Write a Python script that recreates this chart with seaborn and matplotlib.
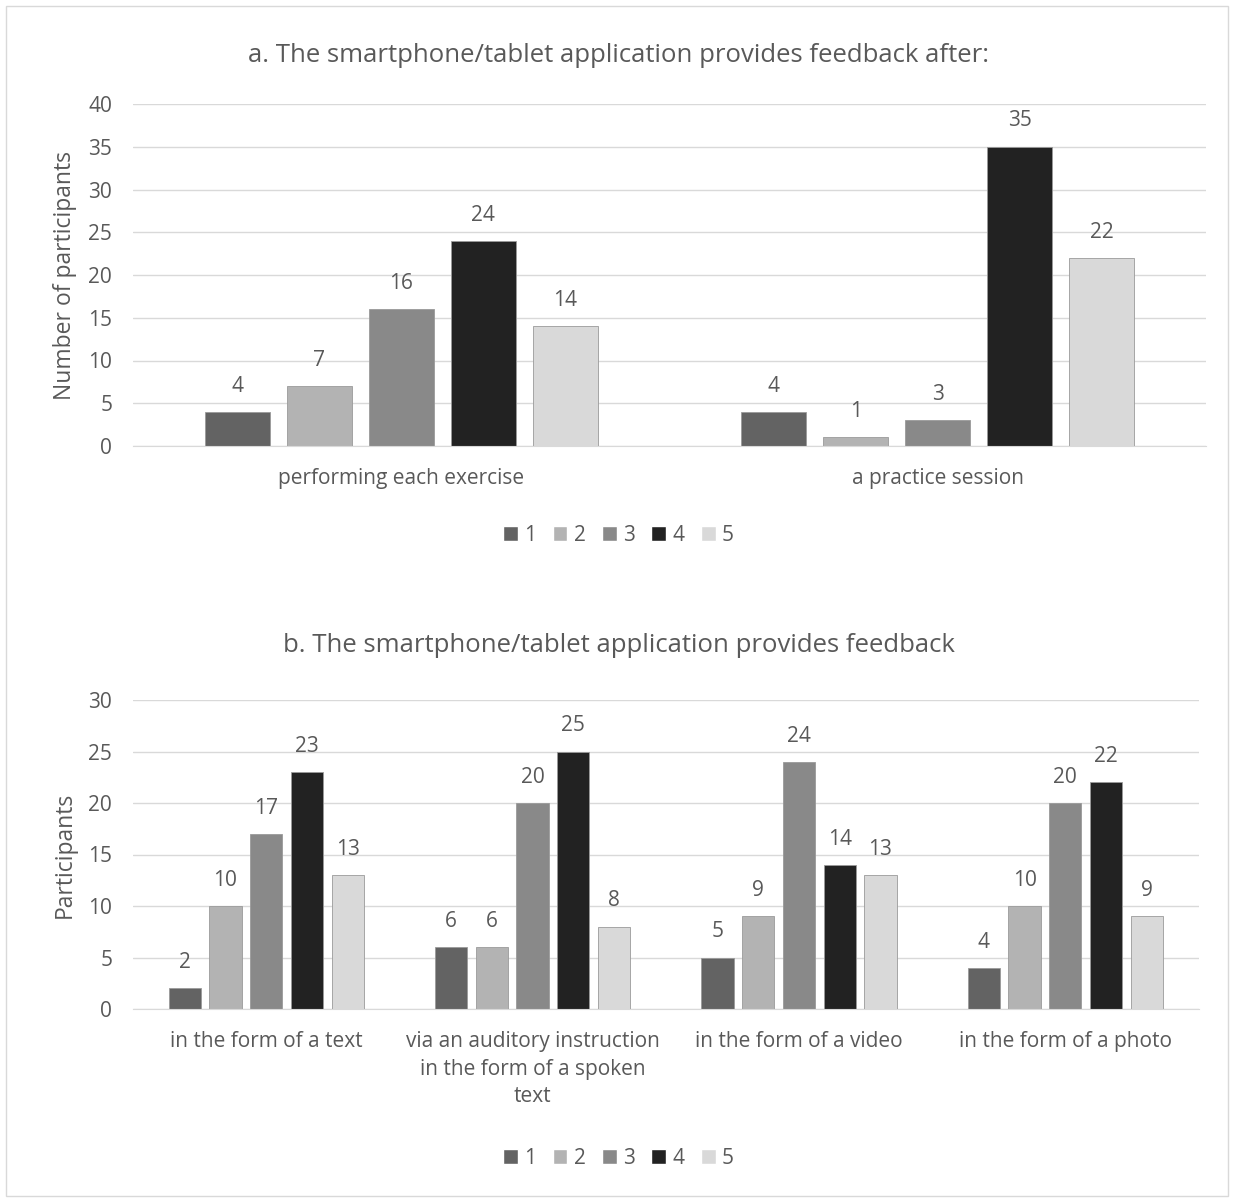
import pandas as pd
import seaborn as sns
import matplotlib.pyplot as plt
from matplotlib.patches import Rectangle

# top chart data
top_title = 'a. The smartphone/tablet application provides feedback after:'
top_cats = ['performing each exercise', 'a practice session']
top_1 = [4, 4]
top_2 = [7, 1]
top_3 = [16, 3]
top_4 = [24, 35]
top_5 = [14, 22]

# bottom chart data
bot_title = 'b. The smartphone/tablet application provides feedback'
bot_cats = ['in the form of a text',
            'via an auditory instruction\nin the form of a spoken\ntext',
            'in the form of a video',
            'in the form of a photo']
bot_1 = [2, 6, 5, 4]
bot_2 = [10, 6, 9, 10]
bot_3 = [17, 20, 24, 20]
bot_4 = [23, 25, 14, 22]
bot_5 = [13, 8, 13, 9]

levels = ['1', '2', '3', '4', '5']
colors = {'1': '#636363', '2': '#b3b3b3', '3': '#898989', '4': '#222222', '5': '#d9d9d9'}
txt = '#595959'


def to_long(cats, series):
    rows = []
    for lvl, vals in zip(levels, series):
        for c, v in zip(cats, vals):
            rows.append({'cat': c, 'level': lvl, 'n': v})
    return pd.DataFrame(rows)


top_df = to_long(top_cats, [top_1, top_2, top_3, top_4, top_5])
bot_df = to_long(bot_cats, [bot_1, bot_2, bot_3, bot_4, bot_5])

sns.set_style("white")
plt.rcParams['font.family'] = ['Open Sans', 'DejaVu Sans']

W, H = 1237, 1202
fig = plt.figure(figsize=(W / 100, H / 100), dpi=100)
ax1 = fig.add_axes([133/W, 1 - 446/H, 1073/W, 342/H])
ax2 = fig.add_axes([133/W, 1 - 1009/H, 1065.5/W, 309/H])

fig.patches.append(Rectangle((6/W, 6/H), 1222/W, 1190/H, transform=fig.transFigure,
                             fill=False, edgecolor='#d9d9d9', linewidth=1))


def draw(ax, df, cats, ymax, ylabel, title, title_y, legend_y):
    sns.barplot(data=df, x='cat', y='n', hue='level', order=cats, hue_order=levels,
                palette=colors, width=0.765, gap=0.21, saturation=1, ax=ax,
                edgecolor='#9a9a9a', linewidth=0.6, errorbar=None, legend=False)
    for cont in ax.containers:
        ax.bar_label(cont, padding=11, fontsize=15, color=txt)
    ax.set_ylim(0, ymax)
    ax.set_yticks(range(0, ymax + 1, 5))
    ax.yaxis.grid(True, color='#d9d9d9', linewidth=1)
    ax.set_axisbelow(True)
    for s in ['top', 'right', 'left']:
        ax.spines[s].set_visible(False)
    ax.spines['bottom'].set_color('#d9d9d9')
    ax.tick_params(axis='both', length=0, labelsize=15, colors=txt)
    ax.tick_params(axis='y', pad=15)
    ax.tick_params(axis='x', pad=16)
    for lab in ax.get_xticklabels():
        lab.set_linespacing(1.4)
    ax.set_xlabel('')
    ax.set_ylabel(ylabel, fontsize=16.5, color=txt, labelpad=8)
    fig.text(0.5, 1 - title_y / H, title, ha='center', va='center', fontsize=18.5, color=txt)
    handles = [Rectangle((0, 0), 1, 1, facecolor=colors[l]) for l in levels]
    fig.legend(handles, levels, loc='center', bbox_to_anchor=(0.5, 1 - legend_y / H), ncol=5,
               frameon=False, fontsize=15, labelcolor=txt, handlelength=0.7, handleheight=0.7,
               handletextpad=0.3, columnspacing=0.8)


draw(ax1, top_df, top_cats, 40, 'Number of participants', top_title, 55, 535)
draw(ax2, bot_df, bot_cats, 30, 'Participants', bot_title, 645, 1158)

plt.savefig('out.png', dpi=100, facecolor='white')
